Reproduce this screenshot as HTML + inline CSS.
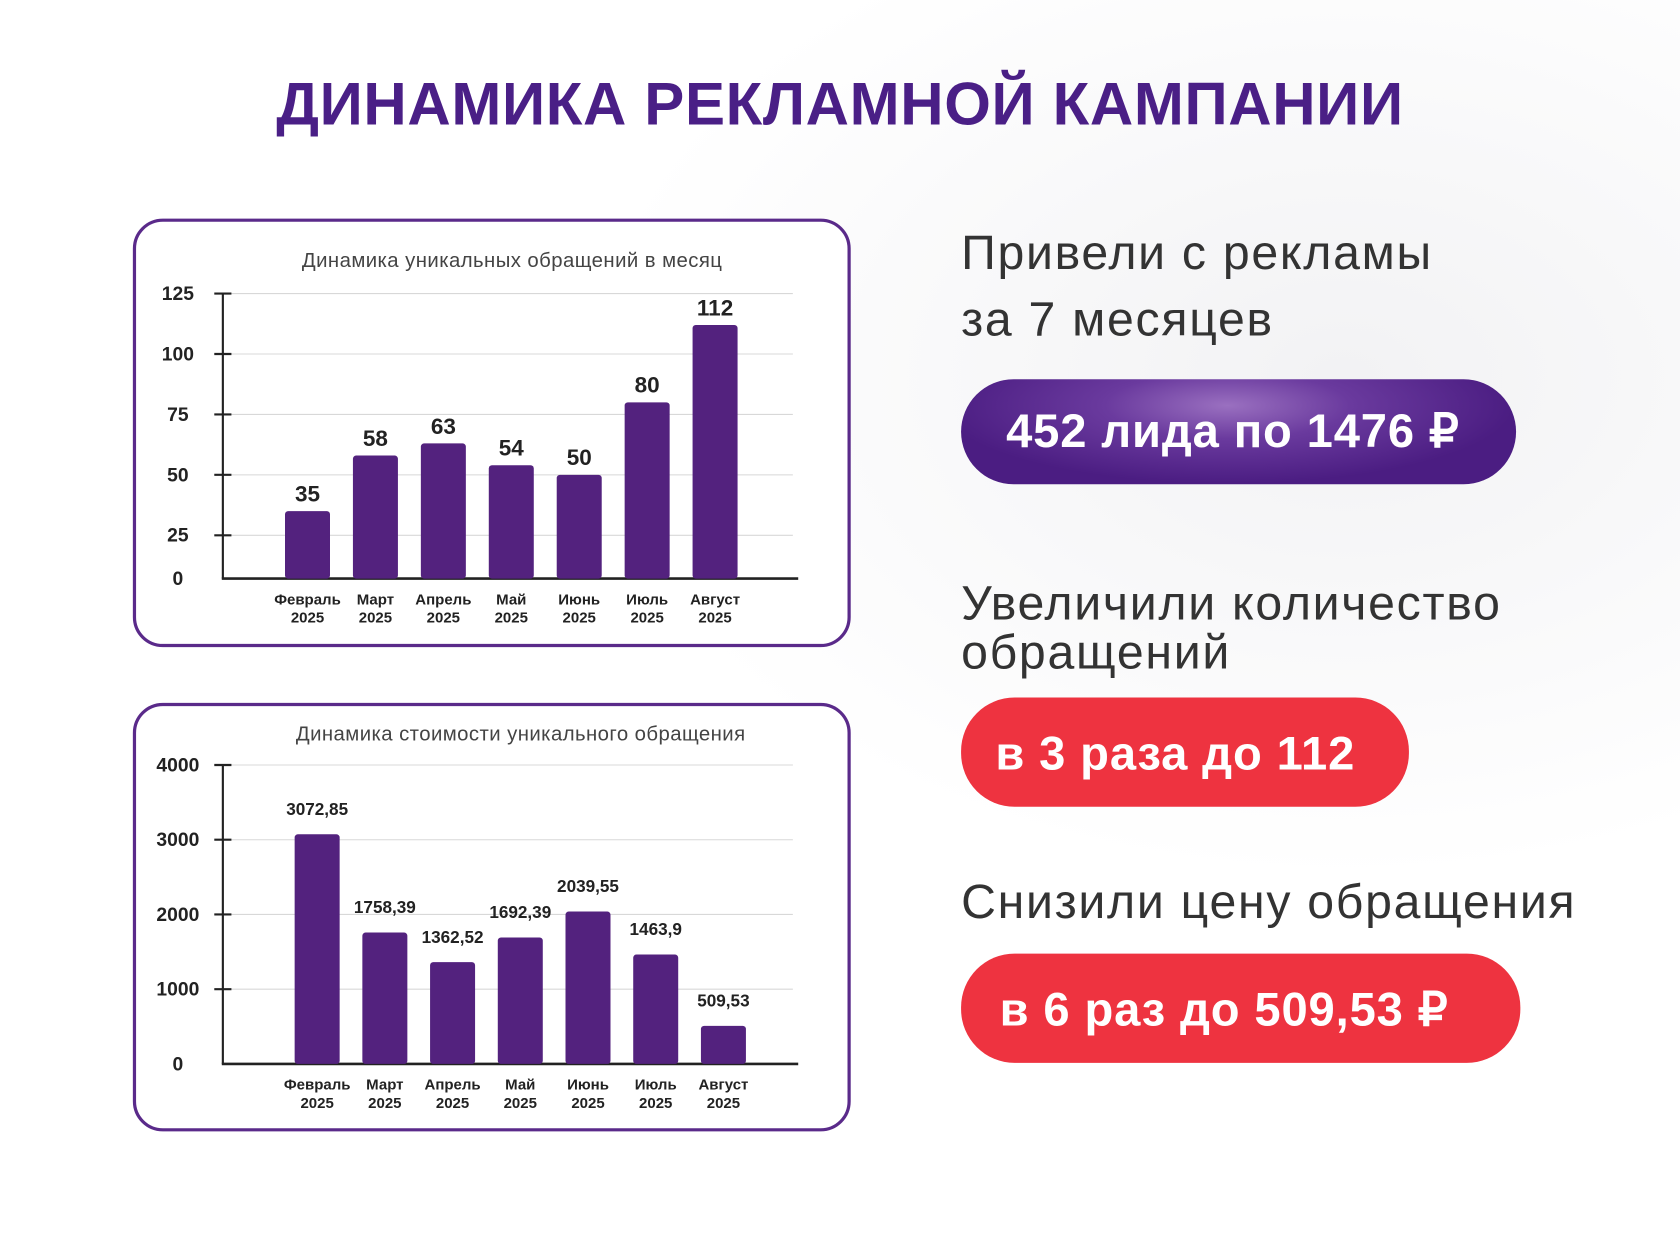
<!DOCTYPE html>
<html><head><meta charset="utf-8">
<style>
html,body{margin:0;padding:0;width:1680px;height:1260px;overflow:hidden;background:#fff}
#wrap{position:absolute;left:0;top:0;width:1568px;height:1176px;transform:scale(1.071429);transform-origin:0 0;
 background:radial-gradient(ellipse at 80% 30%,#f2f2f4 0,#fff 40%),#fff;font-family:"Liberation Sans",sans-serif}
.t{position:absolute;color:#333;font-size:45px;line-height:52px;letter-spacing:1.6px}
.pill{position:absolute;border-radius:50px;color:#fff;font-weight:bold;font-size:44px;box-sizing:border-box;letter-spacing:0.8px}
.card{position:absolute;left:124px;width:670px;height:400px;border:3px solid #5a2a8a;border-radius:28px;box-sizing:border-box;background:#fff}
</style></head><body>
<div id="wrap">
<div style="position:absolute;left:0;width:1568px;top:64px;text-align:center;color:#4a1f86;font-weight:bold;font-size:56px;letter-spacing:0.6px">ДИНАМИКА РЕКЛАМНОЙ КАМПАНИИ</div>
<div class="card" style="top:204px"></div>
<div class="card" style="top:656px"></div>
<svg id="svg" width="1568" height="1176" style="position:absolute;left:0;top:0"></svg>
<div class="t" style="left:897px;top:210px">Привели с рекламы<br><span style="display:inline-block;margin-top:10px">за 7 месяцев</span></div>
<div class="pill" style="left:897px;top:354px;width:518px;height:98px;line-height:98px;padding-left:42px;background:radial-gradient(ellipse at 48% 25%,#9a70c0 0,#6a3a9e 30%,#4b1d82 70%)">452 лида по 1476 ₽</div>
<div class="t" style="left:897px;top:540px;line-height:46px">Увеличили количество<br>обращений</div>
<div class="pill" style="left:897px;top:651px;width:418px;height:102px;line-height:106px;padding-left:32px;background:#ee3340">в 3 раза до 112</div>
<div class="t" style="left:897px;top:816px">Снизили цену обращения</div>
<div class="pill" style="left:897px;top:890px;width:522px;height:102px;line-height:106px;padding-left:36px;background:#ee3340">в 6 раз до 509,53 ₽</div>
</div>
<script>
const months=["Февраль","Март","Апрель","Май","Июнь","Июль","Август"];
const leads=[35,58,63,54,50,80,112];
const leadLabels=["35","58","63","54","50","80","112"];
const leadTicks=[0,25,50,75,100,125];
const costs=[3072.85,1758.39,1362.52,1692.39,2039.55,1463.9,509.53];
const costLabels=["3072,85","1758,39","1362,52","1692,39","2039,55","1463,9","509,53"];
const costTicks=[0,1000,2000,3000,4000];
const NS="http://www.w3.org/2000/svg",svg=document.getElementById('svg');
function mk(t,a,txt){const e=document.createElementNS(NS,t);for(const k in a)e.setAttribute(k,a[k]);if(txt!=null)e.textContent=txt;svg.appendChild(e);return e;}
function chart(o){
 const t=mk('text',{x:o.titleX,y:o.titleY,'text-anchor':'middle','font-size':19,fill:'#444','letter-spacing':0.4},o.title);
 
 o.ticks.forEach(v=>{const y=o.y(v);
  if(v>0){const g=mk('line',{x1:208,x2:740,y1:y,y2:y,stroke:'#d8d8d8','stroke-width':1});}
  if(v>0){const k=mk('line',{x1:200,x2:216,y1:y,y2:y,stroke:'#222','stroke-width':2});}
  const l=mk('text',{x:o.lx,y:(v>0?y:o.base)+6,'text-anchor':'middle','font-size':18,'font-weight':'bold',fill:'#222'},v);
  });
 const ax=mk('line',{x1:208,x2:208,y1:o.y(o.ticks[o.ticks.length-1]),y2:o.base,stroke:'#222','stroke-width':2});
 const bx=mk('line',{x1:207,x2:745,y1:o.base,y2:o.base,stroke:'#222','stroke-width':2.5});
 o.vals.forEach((v,i)=>{const cx=o.x0+i*o.step,y=o.y(v);
  const b=mk('rect',{x:cx-21,y:y,width:42,height:o.base-y,rx:3,fill:'#53227e'});
  const l=mk('text',{x:cx,y:y-o.lo,'text-anchor':'middle','font-size':o.lf,'font-weight':'bold',fill:'#222'},o.labels[i]);
  const m=mk('text',{x:cx,y:o.base+24,'text-anchor':'middle','font-size':14,'font-weight':'bold',fill:'#222'},months[i]);
  const yr=mk('text',{x:cx,y:o.base+41,'text-anchor':'middle','font-size':14,'font-weight':'bold',fill:'#222'},'2025');});
}
chart({title:"Динамика уникальных обращений в месяц",titleX:478,titleY:249,ticks:leadTicks,vals:leads,labels:leadLabels,
 y:v=>556-2.256*v,base:540,lx:166,x0:287,step:63.4,lo:9,lf:21});
chart({title:"Динамика стоимости уникального обращения",titleX:486,titleY:691,ticks:costTicks,vals:costs,labels:costLabels,
 y:v=>993-0.06975*v,base:993,lx:166,x0:296,step:63.2,lo:18,lf:16});
</script>
</body></html>
